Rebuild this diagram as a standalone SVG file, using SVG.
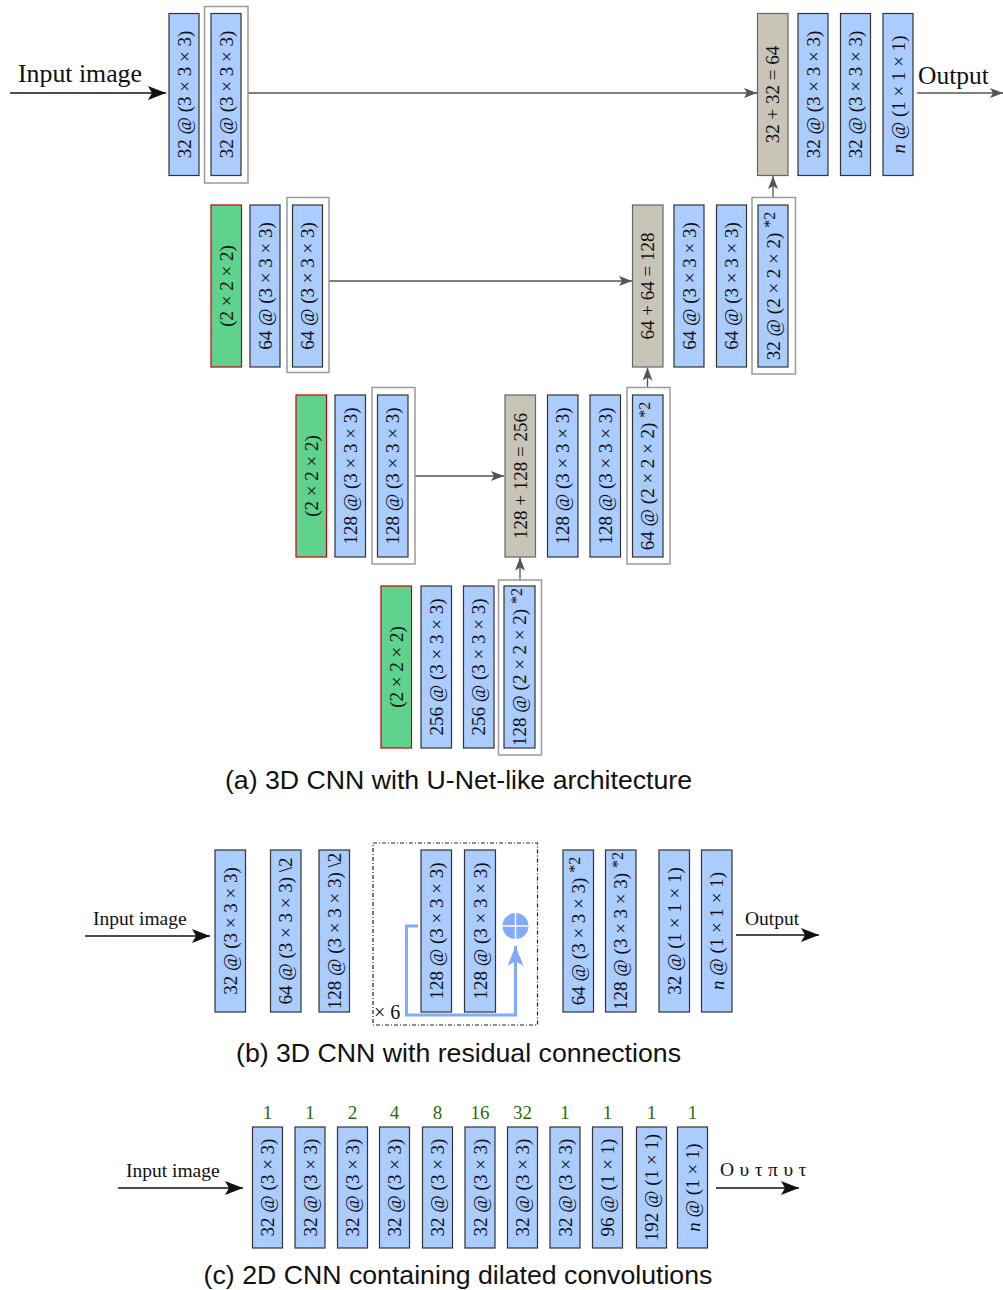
<svg xmlns="http://www.w3.org/2000/svg" width="1003" height="1290" viewBox="0 0 1003 1290">
<style>
.b{fill:#aaccff;stroke:#333;stroke-width:1.2}
.g{fill:#5fd38d;stroke:#c00;stroke-width:1.2}
.c{fill:#c8c4b7;stroke:#666;stroke-width:1.2}
.f{fill:none;stroke:#9a9a9a;stroke-width:1.5}
.t{font-family:"Liberation Serif",serif;font-size:19px;fill:#111;text-anchor:middle;dominant-baseline:central}
.sup{font-size:16px}
.lbl{font-family:"Liberation Serif",serif;fill:#111}
.cap{font-family:"Liberation Sans",Arial,sans-serif;font-size:26.7px;fill:#111;text-anchor:middle}
.num{font-family:"Liberation Serif",serif;font-size:19px;fill:#2d6a0a;text-anchor:middle}
.gl{stroke:#555;stroke-width:1.3;fill:none}
.kl{stroke:#111;stroke-width:1.5;fill:none}
</style>
<defs>
<marker id="ag" markerUnits="userSpaceOnUse" markerWidth="14" markerHeight="12" refX="13" refY="5" orient="auto"><path d="M0,0 L13,5 L0,10 L3,5 z" fill="#555"/></marker>
<marker id="ak" markerUnits="userSpaceOnUse" markerWidth="20" markerHeight="16" refX="18" refY="7" orient="auto"><path d="M0,0 L18,7 L0,14 L4,7 z" fill="#111"/></marker>
<marker id="ab" markerUnits="userSpaceOnUse" markerWidth="22" markerHeight="18" refX="20" refY="8" orient="auto"><path d="M0,0 L20,8 L0,16 L5,8 z" fill="#80aaff"/></marker>
</defs>

<g id="connectors">
<line class="kl" x1="10" y1="93" x2="166" y2="93" marker-end="url(#ak)"/>
<line class="gl" x1="248" y1="93" x2="757" y2="93" marker-end="url(#ag)"/>
<line class="gl" x1="917" y1="93" x2="1003" y2="93" marker-end="url(#ag)"/>
<line class="gl" x1="773" y1="197.5" x2="773" y2="176" marker-end="url(#ag)"/>
<line class="gl" x1="329" y1="281" x2="632" y2="281" marker-end="url(#ag)"/>
<line class="gl" x1="647.5" y1="387.5" x2="647.5" y2="367.5" marker-end="url(#ag)"/>
<line class="gl" x1="415" y1="476" x2="504" y2="476" marker-end="url(#ag)"/>
<line class="gl" x1="520" y1="580" x2="520" y2="557.5" marker-end="url(#ag)"/>
<line class="kl" x1="85" y1="936" x2="210" y2="936" marker-end="url(#ak)"/>
<line class="kl" x1="736" y1="935" x2="819" y2="935" marker-end="url(#ak)"/>
<path d="M418,926 H406.5 V1015 H515.5 V946" fill="none" stroke="#80aaff" stroke-width="3" marker-end="url(#ab)"/>
<line class="kl" x1="118" y1="1188" x2="243" y2="1188" marker-end="url(#ak)"/>
<line class="kl" x1="716" y1="1188" x2="799" y2="1188" marker-end="url(#ak)"/>
</g>

<g id="labels">
<text class="lbl" x="18" y="82" font-size="25.8">Input image</text>
<text class="lbl" x="918" y="84" font-size="25.5">Output</text>
<text class="lbl" x="93" y="925" font-size="19.5">Input image</text>
<text class="lbl" x="745" y="925" font-size="19.5">Output</text>
<text class="lbl" x="126" y="1177" font-size="19.5">Input image</text>
<text class="lbl" x="720" y="1176" font-size="19.5" letter-spacing="5.5">Ουτπυτ</text>
<text class="cap" x="458.5" y="789">(a) 3D CNN with U-Net-like architecture</text>
<text class="cap" x="458.5" y="1062">(b) 3D CNN with residual connections</text>
<text class="cap" x="458" y="1284">(c) 2D CNN containing dilated convolutions</text>
</g>

<!-- (a) row 1 -->
<g id="a1"><rect class="b" x="169" y="13.5" width="30" height="162"/><text class="t" transform="translate(184,94.5) rotate(-90)">32 @ (3 × 3 × 3)</text></g>
<g id="a2"><rect class="f" x="204.5" y="6.5" width="43.5" height="176.5"/><rect class="b" x="211" y="13.5" width="30" height="162"/><text class="t" transform="translate(226,94.5) rotate(-90)">32 @ (3 × 3 × 3)</text></g>
<g id="a3"><rect class="c" x="757.5" y="13.5" width="30.5" height="162"/><text class="t" transform="translate(772.8,94.5) rotate(-90)">32 + 32 = 64</text></g>
<g id="a4"><rect class="b" x="798" y="13.5" width="30" height="162"/><text class="t" transform="translate(813,94.5) rotate(-90)">32 @ (3 × 3 × 3)</text></g>
<g id="a5"><rect class="b" x="840.5" y="13.5" width="30" height="162"/><text class="t" transform="translate(855.5,94.5) rotate(-90)">32 @ (3 × 3 × 3)</text></g>
<g id="a6"><rect class="b" x="883" y="13.5" width="30" height="162"/><text class="t" transform="translate(898,94.5) rotate(-90)"><tspan font-style="italic">n</tspan> @ (1 × 1 × 1)</text></g>

<!-- (a) row 2 -->
<g id="b1"><rect class="g" x="211" y="205" width="30.5" height="162"/><text class="t" transform="translate(226.2,286) rotate(-90)">(2 × 2 × 2)</text></g>
<g id="b2"><rect class="b" x="250" y="205" width="30" height="162"/><text class="t" transform="translate(265,286) rotate(-90)">64 @ (3 × 3 × 3)</text></g>
<g id="b3"><rect class="f" x="287" y="197.5" width="42" height="175"/><rect class="b" x="292.5" y="205" width="30" height="162"/><text class="t" transform="translate(307.5,286) rotate(-90)">64 @ (3 × 3 × 3)</text></g>
<g id="b4"><rect class="c" x="632.5" y="205" width="30.5" height="162"/><text class="t" transform="translate(647.8,286) rotate(-90)">64 + 64 = 128</text></g>
<g id="b5"><rect class="b" x="674" y="205" width="30" height="162"/><text class="t" transform="translate(689,286) rotate(-90)">64 @ (3 × 3 × 3)</text></g>
<g id="b6"><rect class="b" x="716.5" y="205" width="30" height="162"/><text class="t" transform="translate(731.5,286) rotate(-90)">64 @ (3 × 3 × 3)</text></g>
<g id="b7"><rect class="f" x="752" y="197.5" width="43.5" height="176.5"/><rect class="b" x="758" y="205" width="30" height="162"/><text class="t" transform="translate(773,286) rotate(-90)">32 @ (2 × 2 × 2) <tspan class="sup" dy="-4">*2</tspan></text></g>

<!-- (a) row 3 -->
<g id="c1"><rect class="g" x="296" y="395" width="30.5" height="162"/><text class="t" transform="translate(311.2,476) rotate(-90)">(2 × 2 × 2)</text></g>
<g id="c2"><rect class="b" x="335" y="395" width="30.5" height="162"/><text class="t" transform="translate(350.2,476) rotate(-90)">128 @ (3 × 3 × 3)</text></g>
<g id="c3"><rect class="f" x="372" y="387.5" width="43" height="176.5"/><rect class="b" x="377.5" y="395" width="30.5" height="162"/><text class="t" transform="translate(392.8,476) rotate(-90)">128 @ (3 × 3 × 3)</text></g>
<g id="c4"><rect class="c" x="505" y="395" width="30.5" height="162"/><text class="t" transform="translate(520.2,476) rotate(-90)">128 + 128 = 256</text></g>
<g id="c5"><rect class="b" x="547.5" y="395" width="30.5" height="162"/><text class="t" transform="translate(562.8,476) rotate(-90)">128 @ (3 × 3 × 3)</text></g>
<g id="c6"><rect class="b" x="590" y="395" width="30.5" height="162"/><text class="t" transform="translate(605.2,476) rotate(-90)">128 @ (3 × 3 × 3)</text></g>
<g id="c7"><rect class="f" x="627" y="387.5" width="43" height="176.5"/><rect class="b" x="632.5" y="395" width="30.5" height="162"/><text class="t" transform="translate(647.8,476) rotate(-90)">64 @ (2 × 2 × 2) <tspan class="sup" dy="-4">*2</tspan></text></g>

<!-- (a) row 4 -->
<g id="d1"><rect class="g" x="381" y="586" width="30.5" height="162"/><text class="t" transform="translate(396.2,667) rotate(-90)">(2 × 2 × 2)</text></g>
<g id="d2"><rect class="b" x="421" y="586" width="30.5" height="162"/><text class="t" transform="translate(436.2,667) rotate(-90)">256 @ (3 × 3 × 3)</text></g>
<g id="d3"><rect class="b" x="463.5" y="586" width="30.5" height="162"/><text class="t" transform="translate(478.8,667) rotate(-90)">256 @ (3 × 3 × 3)</text></g>
<g id="d4"><rect class="f" x="498.5" y="580" width="43" height="175"/><rect class="b" x="504" y="586" width="31" height="162"/><text class="t" transform="translate(519.5,667) rotate(-90)">128 @ (2 × 2 × 2) <tspan class="sup" dy="-4">*2</tspan></text></g>

<!-- (b) -->
<g id="e1"><rect class="b" x="215" y="850" width="30.5" height="162"/><text class="t" transform="translate(230.2,931) rotate(-90)">32 @ (3 × 3 × 3)</text></g>
<g id="e2"><rect class="b" x="270.5" y="850" width="30.5" height="162"/><text class="t" transform="translate(285.8,931) rotate(-90)">64 @ (3 × 3 × 3) \2</text></g>
<g id="e3"><rect class="b" x="319" y="850" width="30.5" height="162"/><text class="t" transform="translate(334.2,931) rotate(-90)">128 @ (3 × 3 × 3) \2</text></g>
<g id="e4">
<rect x="373" y="843" width="164.5" height="182" fill="none" stroke="#222" stroke-width="1.2" stroke-dasharray="4 2 1 2"/>
<text class="lbl" x="374" y="1019" font-size="20">× 6</text>
<rect class="b" x="421" y="850" width="30.5" height="162"/><text class="t" transform="translate(436.2,931) rotate(-90)">128 @ (3 × 3 × 3)</text>
<rect class="b" x="464.5" y="850" width="31" height="162"/><text class="t" transform="translate(480,931) rotate(-90)">128 @ (3 × 3 × 3)</text>
<circle cx="515.5" cy="926" r="13" fill="#80aaff"/>
<path d="M502.5,926 H528.5 M515.5,913 V939" stroke="#fff" stroke-width="1.5"/>
</g>
<g id="e5"><rect class="b" x="563" y="850" width="30.5" height="162"/><text class="t" transform="translate(578.2,931) rotate(-90)">64 @ (3 × 3 × 3) <tspan class="sup" dy="-4">*2</tspan></text></g>
<g id="e6"><rect class="b" x="605.5" y="850" width="30.5" height="162"/><text class="t" transform="translate(620.8,931) rotate(-90)">128 @ (3 × 3 × 3) <tspan class="sup" dy="-4">*2</tspan></text></g>
<g id="e7"><rect class="b" x="659" y="850" width="30.5" height="162"/><text class="t" transform="translate(674.2,931) rotate(-90)">32 @ (1 × 1 × 1)</text></g>
<g id="e8"><rect class="b" x="701.5" y="850" width="30.5" height="162"/><text class="t" transform="translate(716.8,931) rotate(-90)"><tspan font-style="italic">n</tspan> @ (1 × 1 × 1)</text></g>

<!-- (c) -->
<g id="f1"><rect class="b" x="252.5" y="1127" width="30" height="121"/><text class="t" transform="translate(267.5,1187.5) rotate(-90)">32 @ (3 × 3)</text><text class="num" x="267.5" y="1119">1</text></g>
<g id="f2"><rect class="b" x="295" y="1127" width="30" height="121"/><text class="t" transform="translate(310,1187.5) rotate(-90)">32 @ (3 × 3)</text><text class="num" x="310" y="1119">1</text></g>
<g id="f3"><rect class="b" x="337.5" y="1127" width="30" height="121"/><text class="t" transform="translate(352.5,1187.5) rotate(-90)">32 @ (3 × 3)</text><text class="num" x="352.5" y="1119">2</text></g>
<g id="f4"><rect class="b" x="379.5" y="1127" width="30" height="121"/><text class="t" transform="translate(394.5,1187.5) rotate(-90)">32 @ (3 × 3)</text><text class="num" x="394.5" y="1119">4</text></g>
<g id="f5"><rect class="b" x="422.5" y="1127" width="30" height="121"/><text class="t" transform="translate(437.5,1187.5) rotate(-90)">32 @ (3 × 3)</text><text class="num" x="437.5" y="1119">8</text></g>
<g id="f6"><rect class="b" x="465" y="1127" width="30" height="121"/><text class="t" transform="translate(480,1187.5) rotate(-90)">32 @ (3 × 3)</text><text class="num" x="480" y="1119">16</text></g>
<g id="f7"><rect class="b" x="507.5" y="1127" width="30" height="121"/><text class="t" transform="translate(522.5,1187.5) rotate(-90)">32 @ (3 × 3)</text><text class="num" x="522.5" y="1119">32</text></g>
<g id="f8"><rect class="b" x="550" y="1127" width="30" height="121"/><text class="t" transform="translate(565,1187.5) rotate(-90)">32 @ (3 × 3)</text><text class="num" x="565" y="1119">1</text></g>
<g id="f9"><rect class="b" x="592.5" y="1127" width="30" height="121"/><text class="t" transform="translate(607.5,1187.5) rotate(-90)">96 @ (1 × 1)</text><text class="num" x="607.5" y="1119">1</text></g>
<g id="f10"><rect class="b" x="636.5" y="1127" width="30" height="121"/><text class="t" transform="translate(651.5,1187.5) rotate(-90)">192 @ (1 × 1)</text><text class="num" x="651.5" y="1119">1</text></g>
<g id="f11"><rect class="b" x="677.5" y="1127" width="30" height="121"/><text class="t" transform="translate(692.5,1187.5) rotate(-90)"><tspan font-style="italic">n</tspan> @ (1 × 1)</text><text class="num" x="692.5" y="1119">1</text></g>
</svg>
